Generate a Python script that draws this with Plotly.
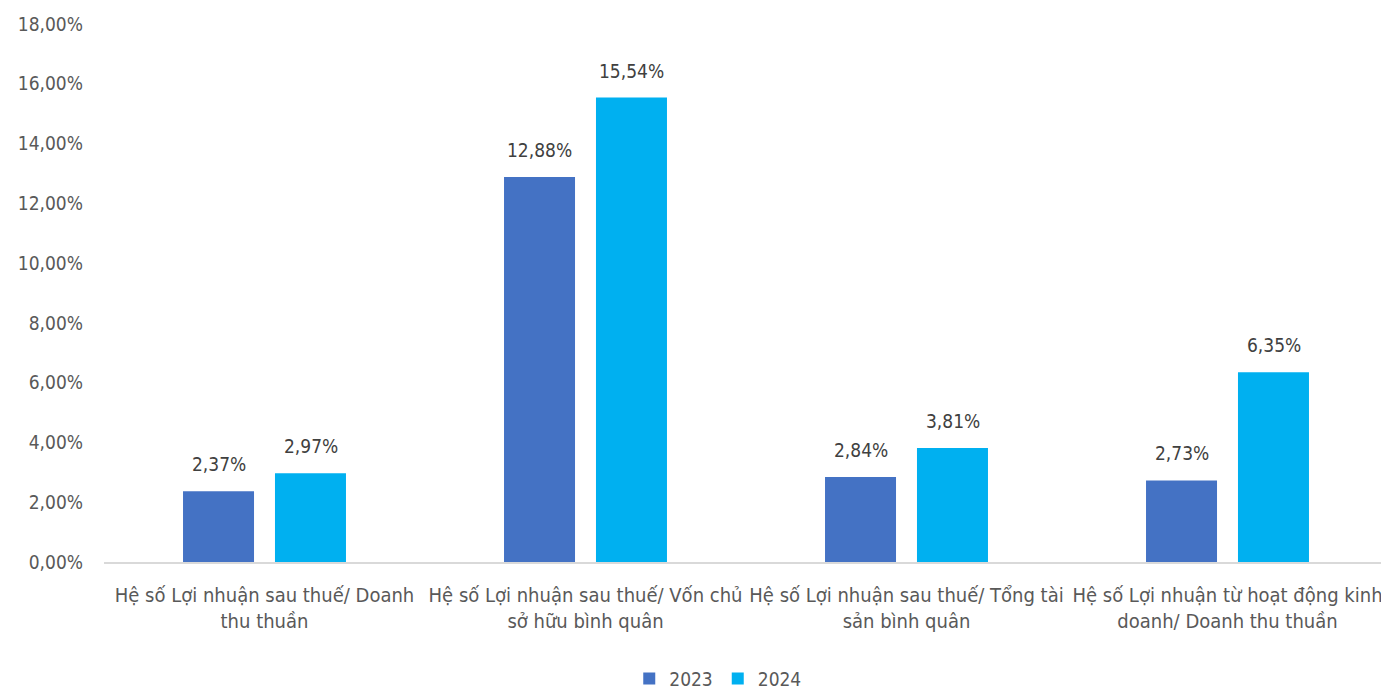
import plotly.graph_objects as go

categories = [
    "Hệ số Lợi nhuận sau thuế/ Doanh<br>thu thuần",
    "Hệ số Lợi nhuận sau thuế/ Vốn chủ<br>sở hữu bình quân",
    "Hệ số Lợi nhuận sau thuế/ Tổng tài<br>sản bình quân",
    "Hệ số Lợi nhuận từ hoạt động kinh<br>doanh/ Doanh thu thuần",
]
series_names = ["2023", "2024"]
values_2023 = [0.0237, 0.1288, 0.0284, 0.0273]
values_2024 = [0.0297, 0.1554, 0.0381, 0.0635]
y_ticks = [0, 0.02, 0.04, 0.06, 0.08, 0.10, 0.12, 0.14, 0.16, 0.18]

FONT = "DejaVu Sans Condensed, sans-serif"
colors = ["#4472C4", "#00B0F0"]

fig = go.Figure()
for name, vals, col in zip(series_names, [values_2023, values_2024], colors):
    fig.add_trace(go.Bar(name=name, x=categories, y=vals, marker_color=col,
                         marker_line_width=0))

# data labels above bars
for vals, shift in zip([values_2023, values_2024], [-46, 46]):
    for cat, v in zip(categories, vals):
        fig.add_annotation(
            x=cat, y=v, xref="x", yref="y", text=f"{v*100:.2f}%".replace(".", ","),
            showarrow=False, yanchor="bottom", xanchor="center",
            xshift=shift, yshift=14,
            font=dict(family=FONT, size=19, color="#404040"),
        )

fig.update_layout(
    width=1381, height=684,
    separators=",.",
    barmode="group", bargap=0.427, bargroupgap=0.228,
    plot_bgcolor="white", paper_bgcolor="white",
    margin=dict(l=96, r=1, t=16, b=130, autoexpand=False),
    font=dict(family=FONT, size=20, color="#595959"),
    legend=dict(orientation="h", x=0.478, xanchor="center", y=-0.217, yanchor="middle",
                font=dict(family=FONT, size=19, color="#595959"),
                tracegroupgap=0),
)
fig.update_yaxes(range=[0, 0.18], tickvals=y_ticks, tickformat=".2%",
                 showgrid=False, zeroline=False, showline=False,
                 ticks="", automargin=False, ticklabelstandoff=20,
                 tickfont=dict(family=FONT, size=19, color="#595959"))
fig.update_xaxes(showline=True, linecolor="#D9D9D9", linewidth=1.5,
                 ticks="", automargin=False, ticklabelstandoff=14,
                 tickfont=dict(family=FONT, size=20, color="#595959"))

fig.write_html("out.html")
